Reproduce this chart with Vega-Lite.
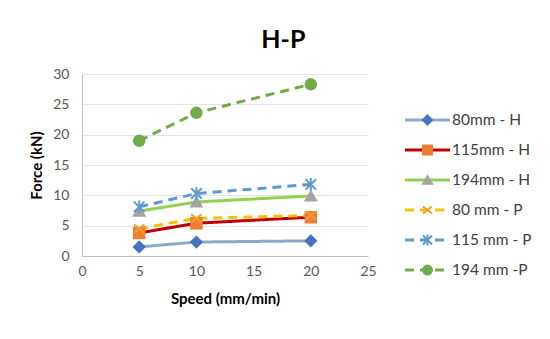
{
  "$schema": "https://vega.github.io/schema/vega-lite/v6.json",
  "background": "white",
  "padding": {"left": 29, "top": 28, "right": 5, "bottom": 5},
  "title": {"text": "H-P", "fontSize": 25, "font": "Lato", "fontWeight": "bold", "color": "#000000", "anchor": "middle", "offset": 14},
  "config": {"view": {"stroke": null}, "font": "Lato"},
  "spacing": 20,
  "datasets": {
    "pts": [
      {"series": "80mm - H", "speed": 5, "force": 1.5},
      {"series": "80mm - H", "speed": 10, "force": 2.3},
      {"series": "80mm - H", "speed": 20, "force": 2.5},
      {"series": "115mm - H", "speed": 5, "force": 3.8},
      {"series": "115mm - H", "speed": 10, "force": 5.4},
      {"series": "115mm - H", "speed": 20, "force": 6.4},
      {"series": "194mm - H", "speed": 5, "force": 7.4},
      {"series": "194mm - H", "speed": 10, "force": 8.9},
      {"series": "194mm - H", "speed": 20, "force": 9.9},
      {"series": "80 mm - P", "speed": 5, "force": 4.5},
      {"series": "80 mm - P", "speed": 10, "force": 6.2},
      {"series": "80 mm - P", "speed": 20, "force": 6.7},
      {"series": "115 mm - P", "speed": 5, "force": 8.1},
      {"series": "115 mm - P", "speed": 10, "force": 10.3},
      {"series": "115 mm - P", "speed": 20, "force": 11.8},
      {"series": "194 mm -P", "speed": 5, "force": 19.0},
      {"series": "194 mm -P", "speed": 10, "force": 23.6},
      {"series": "194 mm -P", "speed": 20, "force": 28.3}
    ],
    "leg": [
      {"series": "80mm - H", "row": 0},
      {"series": "115mm - H", "row": 1},
      {"series": "194mm - H", "row": 2},
      {"series": "80 mm - P", "row": 3},
      {"series": "115 mm - P", "row": 4},
      {"series": "194 mm -P", "row": 5}
    ]
  },
  "hconcat": [
    {
      "width": 286,
      "height": 182,
      "data": {"name": "pts"},
      "encoding": {
        "x": {"field": "speed", "type": "quantitative", "scale": {"domain": [0, 25]},
          "axis": {"values": [0, 5, 10, 15, 20, 25], "title": "Speed (mm/min)", "titleFontSize": 15, "titleFontWeight": "bold", "titleColor": "#000000", "titlePadding": 13, "labelFontSize": 14, "labelColor": "#595959", "labelPadding": 8, "ticks": false, "grid": false, "domainColor": "#BFBFBF", "labelFlush": false}},
        "y": {"field": "force", "type": "quantitative", "scale": {"domain": [0, 30]},
          "axis": {"values": [0, 5, 10, 15, 20, 25, 30], "title": "Force (kN)", "titleFontSize": 15, "titleFontWeight": "bold", "titleColor": "#000000", "titlePadding": 8, "labelFontSize": 14, "labelColor": "#595959", "labelPadding": 13, "ticks": false, "gridColor": "#E4E4E4", "domainColor": "#BFBFBF"}},
        "detail": {"field": "series"}
      },
      "layer": [
        {
          "mark": {"type": "line", "strokeWidth": 3},
          "encoding": {
            "stroke": {"field": "series", "type": "nominal", "legend": null,
              "scale": {"domain": ["80mm - H", "115mm - H", "194mm - H", "80 mm - P", "115 mm - P", "194 mm -P"], "range": ["#8EA9C8", "#C00000", "#92D050", "#FFC000", "#5B9BD5", "#70AD47"]}},
            "strokeDash": {"field": "series", "type": "nominal", "legend": null,
              "scale": {"domain": ["80mm - H", "115mm - H", "194mm - H", "80 mm - P", "115 mm - P", "194 mm -P"], "range": [[1, 0], [1, 0], [1, 0], [9, 6], [9, 6], [9, 6]]}}
          }
        },
        {
          "mark": {"type": "point", "filled": true, "opacity": 1, "strokeWidth": 2},
          "encoding": {
            "fill": {"field": "series", "type": "nominal", "legend": null,
              "scale": {"domain": ["80mm - H", "115mm - H", "194mm - H", "80 mm - P", "115 mm - P", "194 mm -P"], "range": ["#4472C4", "#ED7D31", "#A5A5A5", "#FFC000", "#5B9BD5", "#70AD47"]}},
            "stroke": {"field": "series", "type": "nominal", "legend": null,
              "scale": {"domain": ["80mm - H", "115mm - H", "194mm - H", "80 mm - P", "115 mm - P", "194 mm -P"], "range": ["#4472C4", "#ED7D31", "#A5A5A5", "#F0A030", "#5B9BD5", "#70AD47"]}},
            "shape": {"field": "series", "type": "nominal", "legend": null,
              "scale": {"domain": ["80mm - H", "115mm - H", "194mm - H", "80 mm - P", "115 mm - P", "194 mm -P"], "range": ["diamond", "square", "triangle-up", "M-1,-0.8L1,0.8M1,-0.8L-1,0.8", "M-1,-1L1,1M1,-1L-1,1M0,-1.2L0,1.2", "circle"]}},
            "size": {"value": 110}
          }
        }
      ],
      "resolve": {"scale": {"stroke": "independent"}}
    },
    {
      "width": 140,
      "height": 230,
      "data": {"name": "leg"},
      "encoding": {
        "y": {"field": "row", "type": "quantitative", "scale": {"domain": [-1.533, 6.133], "reverse": true}, "axis": null}
      },
      "layer": [
        {
          "mark": {"type": "rule", "strokeWidth": 3},
          "encoding": {
            "x": {"datum": 8, "type": "quantitative", "scale": {"domain": [0, 140]}, "axis": null},
            "x2": {"datum": 53},
            "stroke": {"field": "series", "type": "nominal", "legend": null,
              "scale": {"domain": ["80mm - H", "115mm - H", "194mm - H", "80 mm - P", "115 mm - P", "194 mm -P"], "range": ["#8EA9C8", "#C00000", "#92D050", "#FFC000", "#5B9BD5", "#70AD47"]}},
            "strokeDash": {"field": "series", "type": "nominal", "legend": null,
              "scale": {"domain": ["80mm - H", "115mm - H", "194mm - H", "80 mm - P", "115 mm - P", "194 mm -P"], "range": [[1, 0], [1, 0], [1, 0], [9, 6], [9, 6], [9, 6]]}}
          }
        },
        {
          "mark": {"type": "point", "filled": true, "opacity": 1, "strokeWidth": 2},
          "encoding": {
            "x": {"datum": 30.5, "type": "quantitative", "scale": {"domain": [0, 140]}, "axis": null},
            "fill": {"field": "series", "type": "nominal", "legend": null,
              "scale": {"domain": ["80mm - H", "115mm - H", "194mm - H", "80 mm - P", "115 mm - P", "194 mm -P"], "range": ["#4472C4", "#ED7D31", "#A5A5A5", "#FFC000", "#5B9BD5", "#70AD47"]}},
            "stroke": {"field": "series", "type": "nominal", "legend": null,
              "scale": {"domain": ["80mm - H", "115mm - H", "194mm - H", "80 mm - P", "115 mm - P", "194 mm -P"], "range": ["#4472C4", "#ED7D31", "#A5A5A5", "#F0A030", "#5B9BD5", "#70AD47"]}},
            "shape": {"field": "series", "type": "nominal", "legend": null,
              "scale": {"domain": ["80mm - H", "115mm - H", "194mm - H", "80 mm - P", "115 mm - P", "194 mm -P"], "range": ["diamond", "square", "triangle-up", "M-1,-0.8L1,0.8M1,-0.8L-1,0.8", "M-1,-1L1,1M1,-1L-1,1M0,-1.2L0,1.2", "circle"]}},
            "size": {"value": 80}
          }
        },
        {
          "mark": {"type": "text", "align": "left", "baseline": "middle", "fontSize": 15.5, "color": "#404040", "font": "Lato"},
          "encoding": {
            "x": {"datum": 55, "type": "quantitative", "scale": {"domain": [0, 140]}, "axis": null},
            "text": {"field": "series"}
          }
        }
      ],
      "resolve": {"scale": {"stroke": "independent"}}
    }
  ]
}
